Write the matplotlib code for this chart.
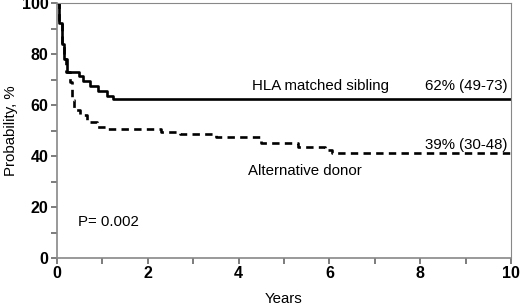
import numpy as np
import matplotlib.pyplot as plt
from matplotlib.ticker import MultipleLocator

plt.rcParams['font.family'] = ['Liberation Sans', 'DejaVu Sans']

# Kaplan-Meier style step curves (years, probability %)
sib_t = [0, 0.05, 0.1, 0.15, 0.21, 0.49, 0.58, 0.73, 0.91, 1.11, 1.24, 10]
sib_p = [100, 92, 84, 78, 73, 71.4, 69.3, 67.3, 65.4, 63.6, 62.3, 62.3]

alt_t = [0, 0.05, 0.1, 0.15, 0.2, 0.29, 0.33, 0.38, 0.5, 0.65, 0.87, 1.12,
         2.3, 2.7, 3.5, 4.5, 5.3, 5.9, 6.05, 10]
alt_p = [100, 92, 84, 78, 73, 69, 62, 58, 56, 53.5, 51.5, 50.5,
         49.5, 48.5, 47.3, 45, 43.5, 42.5, 41, 41]

fig = plt.figure(figsize=(5.2, 3.07), dpi=100)
ax = fig.add_axes([0.1096, 0.1596, 0.8734, 0.8306])

ax.plot(sib_t, sib_p, drawstyle="steps-post", color="black", linewidth=1.9)
ax.plot(alt_t, alt_p, drawstyle="steps-post", color="black", linewidth=1.9,
        linestyle=(0, (2.8, 2.0)))

fs = 10.8
ax.text(4.29, 67.5, "HLA matched sibling", fontsize=fs, va="center", ha="left")
ax.text(9.93, 67.5, "62% (49-73)", fontsize=fs, va="center", ha="right")
ax.text(9.93, 44.5, "39% (30-48)", fontsize=fs, va="center", ha="right")
ax.text(4.2, 34, "Alternative donor", fontsize=fs, va="center", ha="left")
ax.text(0.46, 14, "P= 0.002", fontsize=fs, va="center", ha="left")

ax.set_xlim(0, 10)
ax.set_ylim(0, 100)
ax.xaxis.set_major_locator(MultipleLocator(2))
ax.xaxis.set_minor_locator(MultipleLocator(1))
ax.yaxis.set_major_locator(MultipleLocator(20))
ax.yaxis.set_minor_locator(MultipleLocator(10))

for s in ax.spines.values():
    s.set_color("#888888")
    s.set_linewidth(0.8)
ax.spines["left"].set_linewidth(1.2)
ax.spines["bottom"].set_linewidth(1.2)

ax.tick_params(which="both", direction="out", color="#666666", width=1.2)
ax.tick_params(which="major", length=4, labelsize=11.5, pad=2)
ax.tick_params(which="minor", length=4)
for lbl in ax.get_xticklabels() + ax.get_yticklabels():
    lbl.set_fontweight("bold")

ax.set_xlabel("Years", fontsize=10.8, labelpad=8)
ax.set_ylabel("Probability, %", fontsize=10.8, labelpad=3)

plt.savefig("out.png", dpi=100)
